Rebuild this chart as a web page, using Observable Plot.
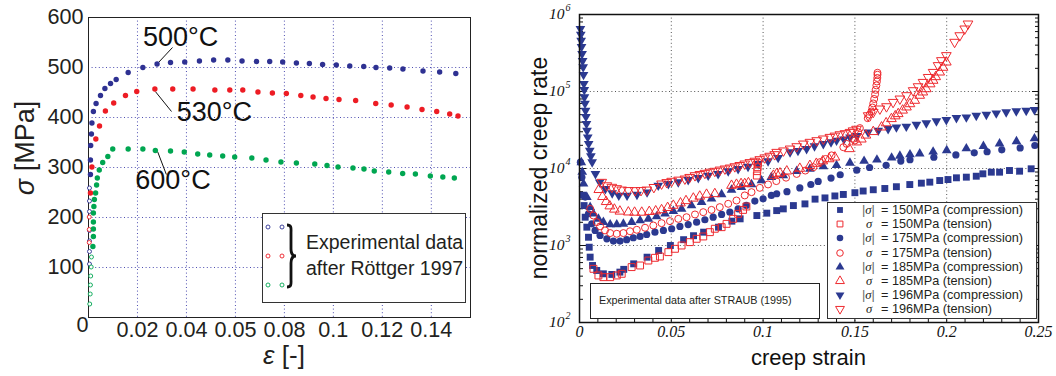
<!DOCTYPE html>
<html>
<head>
<meta charset="utf-8">
<script src="https://cdn.jsdelivr.net/npm/d3@7"></script>
<script src="https://cdn.jsdelivr.net/npm/@observablehq/plot@0.6"></script>
<style>
  html, body { margin:0; padding:0; background:#fff; }
  body { position:relative; width:1056px; height:376px; overflow:hidden; font-family:"Liberation Sans", Arial, sans-serif; }
  #left { position:absolute; left:0; top:0; }
  #right { position:absolute; left:520px; top:0; }
  .box { position:absolute; background:#fff; box-sizing:border-box; }
  .t { position:absolute; white-space:nowrap; color:#231f20; }
</style>
</head>
<body>
<div id="left"></div>
<div id="right"></div>
<script>
// ================= LEFT PANEL DATA (stress-strain, Röttger 1997) =================
const leftXTicks = [0.02, 0.04, 0.06, 0.08, 0.1, 0.12, 0.14];
const leftXTickLabels = ["0.02", "0.04", "0.05", "0.08", "0.1", "0.12", "0.14"];
const leftYTicks = [100, 200, 300, 400, 500, 600];

const strain500 = [0.0008,0.0008,0.0009,0.0012,0.0014,0.002,0.0031,0.0049,0.0067,0.009,0.0113,0.0162,0.0222,0.028,0.0335,0.0393,0.0453,0.0511,0.0569,0.0627,0.0686,0.074,0.0793,0.0849,0.0902,0.0956,0.1012,0.1067,0.1124,0.1174,0.123,0.1284,0.1366,0.1434,0.150];
const stress500 = [286,315,344,367,389,412,428,444,458,468,476,490,500,507,510,511,513,515,515,513,512,512,511,509,508,506,505,503,502,500,499,497,493,491,488];
const strain500Open = [0.0004,0.0004,0.0004,0.0004,0.0004,0.0004,0.0004];
const stress500Open = [259,233,212,174,153,132,107];

const strain530 = [0.0008,0.0014,0.003,0.0045,0.0069,0.0103,0.0151,0.0197,0.0271,0.0344,0.0427,0.0516,0.0577,0.063,0.0692,0.0751,0.0808,0.0867,0.0917,0.097,0.1023,0.1091,0.1173,0.1236,0.1301,0.1362,0.1422,0.1475,0.1509];
const stress530 = [249,301,357,383,413,429,444,452,457,457,457,455,455,455,451,449,448,444,441,438,436,434,428,425,421,416,412,407,403];
const strain530Open = [0.0003,0.0003,0.0003];
const stress530Open = [201,176,150];

const strain600 = [0.0018,0.002,0.002,0.002,0.002,0.0022,0.0024,0.0029,0.0033,0.0036,0.0044,0.0058,0.0079,0.0099,0.0162,0.0222,0.0273,0.0335,0.0391,0.0446,0.0495,0.0548,0.0597,0.0667,0.0725,0.0786,0.0849,0.0924,0.0974,0.1019,0.108,0.1125,0.1167,0.1226,0.1283,0.1335,0.1396,0.1447,0.1494];
const stress600 = [142,162,177,191,209,222,236,249,265,279,295,310,322,337,337,337,334,333,331,327,325,323,321,319,315,311,309,307,304,301,299,297,293,291,288,287,283,281,279];
const strain600Open = [0.0012,0.0011,0.0009,0.0008,0.0007,0.0005];
const stress600Open = [121,101,83,65,47,27];

const tempLabels = ["500°C", "530°C", "600°C"];
const tempLabelX = [0.0376, 0.0514, 0.0345];
const tempLabelY = [560, 410, 274];
const leaderX1 = [0.0343, 0.0339, 0.0318];
const leaderY1 = [540, 412, 286];
const leaderX2 = [0.0282, 0.0273, 0.0282];
const leaderY2 = [508, 452, 332];

// ================= RIGHT PANEL DATA (creep, STRAUB 1995) =================
const rightXTicks = [0, 0.05, 0.1, 0.15, 0.2, 0.25];
const rightXTickLabels = ["0", "0.05", "0.1", "0.15", "0.2", "0.25"];
const rightYDecades = [1e2, 1e3, 1e4, 1e5, 1e6];
const rightYExponents = ["2", "3", "4", "5", "6"];

// 150 MPa compression (filled squares)
const strainC150 = [0.002,0.0025,0.0031,0.004,0.0049,0.0053,0.0058,0.0071,0.0094,0.013,0.0176,0.022,0.0241,0.0295,0.0368,0.0431,0.0495,0.0567,0.0621,0.0676,0.0757,0.083,0.0875,0.0966,0.102,0.1074,0.111,0.1165,0.1228,0.1283,0.1337,0.1391,0.1437,0.150,0.1545,0.160,0.1663,0.1726,0.1799,0.1862,0.1908,0.1962,0.2007,0.2053,0.2107,0.2161,0.2197,0.2243,0.2288,0.2342,0.2397,0.246];
const rateC150 = [4500,3300,2330,1730,1280,950,706,550,474,429,421,451,490,578,705,861,1000,1190,1340,1490,1730,2070,2220,2450,2630,2840,2990,3300,3470,4000,4150,4400,4600,4850,5100,5300,5500,5800,6190,6450,6650,6980,7190,7570,7720,7940,8530,8960,8960,9420,9230,9910];
// 150 MPa tension (open squares)
const strainT150 = [0.0076,0.0103,0.013,0.0167,0.0203,0.023,0.0284,0.033,0.0375,0.0411,0.0438,0.0484,0.052,0.0556,0.0601,0.0638,0.0674,0.071,0.0737,0.0774,0.0801,0.0837,0.0864,0.0891,0.0909,0.0966,0.0968,0.097,0.0972];
const rateT150 = [498,408,388,388,408,429,524,550,638,692,720,820,906,1000,1106,1222,1310,1490,1650,1730,1910,2220,2580,2900,3210,8100,9240,10400,11700];
// 175 MPa compression (filled circles)
const strainC175 = [0.0005,0.0013,0.0031,0.0049,0.0067,0.0085,0.0112,0.0149,0.0185,0.0221,0.0257,0.0293,0.033,0.0366,0.0411,0.0457,0.0502,0.0547,0.0592,0.0638,0.0683,0.0728,0.0774,0.0819,0.0864,0.0909,0.0955,0.1,0.1045,0.1074,0.113,0.12,0.126,0.13,0.137,0.142,0.151,0.158,0.167,0.175,0.18,0.193,0.205,0.215,0.222,0.23,0.24,0.248];
const rateC175 = [12100,7700,4250,2580,1910,1570,1350,1220,1140,1140,1190,1260,1310,1390,1490,1570,1650,1770,1870,2010,2160,2330,2530,2710,2990,3310,3770,4040,4470,4700,5000,5600,6200,6800,7500,8300,9500,10300,11000,12500,13000,14000,15000,16000,16500,17500,18500,19900];
// 175 MPa tension (open circles)
const strainT175 = [0.0058,0.0076,0.0094,0.0112,0.0139,0.0167,0.0203,0.0239,0.0275,0.0312,0.0357,0.0402,0.0447,0.0493,0.0538,0.0583,0.0629,0.0674,0.0719,0.0764,0.081,0.0855,0.09,0.0937,0.0982,0.1027,0.1072,0.1125,0.1183,0.123,0.1274,0.131,0.134,0.1373,0.1437,0.1455,0.1491,0.15,0.1518,0.1527,0.157,0.158,0.159,0.1595,0.16,0.1605,0.161,0.1613,0.1617,0.162,0.1622,0.1623,0.1623];
const rateT175 = [2990,2450,2010,1770,1570,1450,1420,1450,1530,1600,1700,1820,1950,2070,2220,2330,2530,2710,2900,3150,3480,3840,4470,4930,5610,6210,6860,7600,8500,9400,10400,12100,13300,14800,18900,20900,24300,23100,29600,33500,45000,50000,55000,62000,70000,80000,92000,105000,120000,135000,150000,165000,175000];
// 185 MPa compression (filled triangles)
const strainC185 = [0.001,0.0015,0.0022,0.004,0.0058,0.0076,0.0103,0.013,0.0167,0.0203,0.0239,0.0284,0.033,0.0375,0.042,0.0466,0.0511,0.0556,0.061,0.0665,0.0719,0.0774,0.0828,0.0882,0.0937,0.0991,0.1045,0.111,0.1183,0.1255,0.1328,0.14,0.1473,0.155,0.162,0.17,0.1745,0.18,0.1853,0.1926,0.2,0.2107,0.22,0.2288,0.238,0.2478];
const rateC185 = [12000,9000,6330,4250,3150,2580,2220,2010,1870,1870,1910,2010,2110,2220,2380,2580,2790,2990,3310,3660,4040,4600,5280,5730,6210,6980,7730,8110,9230,9900,10600,11000,11800,12500,13000,13800,14600,15200,15600,16500,17200,18200,19500,21000,22500,24500];
// 185 MPa tension (open triangles)
const strainT185 = [0.0105,0.0125,0.0145,0.0165,0.019,0.022,0.0266,0.030,0.0339,0.038,0.0415,0.0447,0.048,0.0511,0.055,0.058,0.062,0.0655,0.0692,0.0737,0.0828,0.0855,0.088,0.09,0.092,0.1056,0.1074,0.1092,0.1129,0.12,0.1255,0.129,0.1325,0.136,0.1391,0.147,0.151,0.1535,0.156,0.16,0.1645,0.167,0.1699,0.172,0.1736,0.176,0.1781,0.18,0.1826,0.1853,0.187,0.1889,0.191,0.1926,0.194,0.1962,0.198,0.1998];
const rateT185 = [5300,4300,3700,3250,2950,2780,2710,2690,2690,2750,2800,2900,3100,3310,3550,3800,4100,4350,4600,4690,6010,6200,6330,6330,6500,8110,8530,8690,9230,10000,10900,11600,12500,13300,14000,18000,22000,24000,27000,30000,34400,39000,44200,48000,51300,57000,62600,69000,76400,88800,98000,108000,125000,139000,155000,178000,205000,240000];
// 196 MPa compression (filled inverted triangles)
const strainC196 = [0.0005,0.0007,0.0009,0.0011,0.0014,0.0017,0.002,0.0022,0.0024,0.0026,0.0027,0.003,0.0033,0.0035,0.0038,0.0041,0.0045,0.005,0.0056,0.0062,0.0069,0.0087,0.011,0.0141,0.0178,0.0214,0.0259,0.0313,0.0368,0.0429,0.0484,0.0538,0.0592,0.0647,0.0701,0.0755,0.081,0.0864,0.0918,0.0973,0.1027,0.1082,0.1147,0.119,0.1237,0.128,0.1328,0.137,0.14,0.144,0.1473,0.151,0.1572,0.1627,0.1681,0.1726,0.178,0.1835,0.1889,0.1944,0.1998,0.2053,0.2107,0.2161,0.2216,0.227,0.2324,0.2379,0.2433,0.2478];
const rateC196 = [652000,550000,459000,380000,308000,250000,207000,165000,126000,105000,84400,70000,56600,47000,38000,31000,25500,21000,17100,14500,12100,8530,6640,5450,4790,4470,4470,4590,4920,6010,6330,6650,7130,7570,8110,8530,9250,9910,10600,11500,12500,13800,16300,17000,18000,19500,20900,22000,23100,24000,25500,26500,29600,31200,32700,34400,35100,37200,38800,41200,42900,45500,46400,48700,50200,52300,53900,55600,56600,57800];
// 196 MPa tension (open inverted triangles)
const strainT196 = [0.0121,0.0149,0.0176,0.0203,0.023,0.0266,0.0303,0.0335,0.0366,0.0405,0.0447,0.0475,0.0502,0.054,0.0574,0.06,0.0629,0.0656,0.0683,0.071,0.0737,0.0765,0.0792,0.082,0.0846,0.0873,0.09,0.0928,0.0955,0.0982,0.1009,0.1036,0.1063,0.1074,0.1111,0.1147,0.1183,0.1219,0.1255,0.1292,0.1328,0.1364,0.1391,0.1418,0.1446,0.1473,0.149,0.1509,0.1572,0.16,0.1636,0.1672,0.1708,0.1745,0.1781,0.1817,0.1844,0.1871,0.1899,0.1926,0.1953,0.1971,0.1998,0.2043,0.2071,0.2098,0.2116];
const rateT196 = [6650,6000,5730,5500,5280,5200,5190,5200,5280,5700,6330,6600,6860,7100,7340,7700,8110,8400,8700,9000,9250,9600,9910,10200,10600,11000,11500,12000,12500,13100,13800,14500,15200,16300,17000,18000,19300,20900,22000,23100,24300,25500,26500,27600,28500,29600,31000,32500,48700,53900,59600,63800,72600,80300,88800,103000,116000,132000,153000,178000,218000,253000,294000,438000,533000,652000,757000];

const legendStress = [150, 150, 175, 175, 185, 185, 196, 196];
const legendMode = ["compression", "tension", "compression", "tension", "compression", "tension", "compression", "tension"];

// ================= STYLE =================
const blueL = "#2e3192", redL = "#ed1c24", greenL = "#00a651";
const blueR = "#2b3990", redR = "#ee2a2f";
const sans = '"Liberation Sans", Arial, sans-serif';
const serif = '"Liberation Serif", "Times New Roman", serif';

const rows = (xs, ys) => xs.map((x, i) => ({x, y: ys[i]}));

// inverted triangle symbol
const sqrt3 = Math.sqrt(3);
const invTri = {
  draw(ctx, size) {
    const a = Math.sqrt(size / (sqrt3 * 3));
    ctx.moveTo(0, 2 * a);
    ctx.lineTo(sqrt3 * a, -a);
    ctx.lineTo(-sqrt3 * a, -a);
    ctx.closePath();
  }
};

// ================= LEFT PLOT =================
const gridBlue = "#3b3ba8";
const ann = tempLabels.map((t, i) => ({t, x: tempLabelX[i], y: tempLabelY[i]}));
const leaders = tempLabels.map((t, i) => ({x1: leaderX1[i], y1: leaderY1[i], x2: leaderX2[i], y2: leaderY2[i]}));

const leftPlot = Plot.plot({
  width: 480, height: 376,
  marginLeft: 88, marginRight: 10, marginTop: 17, marginBottom: 59,
  style: {fontFamily: sans, fontSize: "21.6px", color: "#231f20", background: "transparent", overflow: "visible"},
  x: {domain: [0, 0.156]},
  y: {domain: [0, 600]},
  marks: [
    Plot.gridX(leftXTicks, {stroke: gridBlue, strokeOpacity: 0.9, strokeDasharray: "1,2.6"}),
    Plot.gridY(leftYTicks.slice(0, -1), {stroke: gridBlue, strokeOpacity: 0.9, strokeDasharray: "1,2.6"}),
    Plot.axisX(leftXTicks, {tickSize: 0, tickPadding: 4, label: null, fontSize: 21.6,
      tickFormat: d => leftXTickLabels[leftXTicks.indexOf(d)]}),
    Plot.axisY(leftYTicks, {tickSize: 0, tickPadding: 5, label: null, fontSize: 21.6}),
    Plot.text([{x: 0, y: 0, t: "0"}], {x: "x", y: "y", text: "t", dx: -6, dy: 8, fontSize: 21.6}),
    Plot.frame({stroke: "#222"}),
    Plot.link(leaders, {x1: "x1", y1: "y1", x2: "x2", y2: "y2", stroke: "#111", strokeWidth: 1}),
    Plot.text(ann, {x: "x", y: "y", text: "t", fontSize: 27, fill: "#111"}),
    Plot.dot(rows(strain500Open, stress500Open), {x: "x", y: "y", r: 2, stroke: blueL, fill: "white", strokeWidth: 0.9}),
    Plot.dot(rows(strain530Open, stress530Open), {x: "x", y: "y", r: 2, stroke: redL, fill: "white", strokeWidth: 0.9}),
    Plot.dot(rows(strain600Open, stress600Open), {x: "x", y: "y", r: 2, stroke: greenL, fill: "white", strokeWidth: 0.9}),
    Plot.dot(rows(strain500, stress500), {x: "x", y: "y", r: 2.7, fill: blueL}),
    Plot.dot(rows(strain530, stress530), {x: "x", y: "y", r: 2.7, fill: redL}),
    Plot.dot(rows(strain600, stress600), {x: "x", y: "y", r: 2.7, fill: greenL})
  ]
});
document.getElementById("left").appendChild(leftPlot);
{
  const s = d3.select(leftPlot);
  const yl = s.append("text").attr("transform", "translate(27,148) rotate(-90)")
    .attr("text-anchor", "middle").attr("dominant-baseline", "middle")
    .attr("font-size", 27).attr("fill", "#231f20").attr("font-family", sans);
  yl.append("tspan").attr("font-style", "italic").text("σ");
  yl.append("tspan").text(" [MPa]");
  const xl = s.append("text").attr("x", 284).attr("y", 357)
    .attr("text-anchor", "middle").attr("dominant-baseline", "middle")
    .attr("font-size", 26).attr("fill", "#231f20").attr("font-family", sans);
  xl.append("tspan").attr("font-style", "italic").text("ε");
  xl.append("tspan").text(" [-]");
}

// left legend
{
  const body = d3.select("body");
  body.append("div").attr("class", "box")
    .style("left", "262px").style("top", "213px").style("width", "204px").style("height", "90px")
    .style("border", "1px solid #333");
  const svg = body.append("svg").style("position", "absolute").style("left", "262px").style("top", "213px")
    .attr("width", 50).attr("height", 90);
  const cols = [blueL, redL, greenL];
  cols.forEach((c, i) => {
    [6, 20].forEach(cx => svg.append("circle").attr("cx", cx).attr("cy", 14 + 29 * i).attr("r", 2)
      .attr("fill", "white").attr("stroke", c).attr("stroke-width", 0.9));
  });
  svg.append("path")
    .attr("d", "M25,12 C30,12 29,16 29,20 L29,36 C29,40 30,43 34,43 C30,43 29,46 29,50 L29,66 C29,70 30,74 25,74")
    .attr("fill", "none").attr("stroke", "#111").attr("stroke-width", 2.8);
  body.append("div").attr("class", "t").style("left", "306px").style("top", "231px")
    .style("font-size", "19.5px").style("line-height", "22px").text("Experimental data");
  body.append("div").attr("class", "t").style("left", "306px").style("top", "257px")
    .style("font-size", "19.5px").style("line-height", "22px").text("after Röttger 1997");
}

// ================= RIGHT PLOT =================
const minorY = [];
for (const d of [1e2, 1e3, 1e4, 1e5]) for (let m = 2; m <= 9; m++) minorY.push(m * d);
const minorX = [];
for (let k = 1; k < 25; k++) minorX.push(k / 100);
const grayGrid = "#555";
const dotOpts = (extra) => Object.assign({x: "x", y: "y"}, extra);

const rightPlot = Plot.plot({
  width: 536, height: 376,
  marginLeft: 59, marginRight: 18, marginTop: 14, marginBottom: 54,
  style: {fontFamily: sans, fontSize: "12px", color: "#111", background: "transparent", overflow: "visible"},
  x: {domain: [0, 0.25]},
  y: {type: "log", domain: [100, 1e6]},
  marks: [
    Plot.gridX(rightXTicks.slice(1, -1), {stroke: grayGrid, strokeOpacity: 1, strokeDasharray: "1,2.6"}),
    Plot.gridY(rightYDecades.slice(1, -1), {stroke: grayGrid, strokeOpacity: 1, strokeDasharray: "1,2.6"}),
    Plot.axisY(minorY, {anchor: "left", tickSize: -4, tickFormat: () => "", label: null}),
    Plot.axisY(minorY, {anchor: "right", tickSize: -4, tickFormat: () => "", label: null}),
    Plot.axisY(rightYDecades, {anchor: "left", tickSize: -7, tickFormat: () => "", label: null}),
    Plot.axisY(rightYDecades, {anchor: "right", tickSize: -7, tickFormat: () => "", label: null}),
    Plot.axisX(minorX, {anchor: "bottom", tickSize: -4, tickFormat: () => "", label: null}),
    Plot.text(rightXTicks.map((v, i) => ({v, t: rightXTickLabels[i]})),
      {x: "v", text: "t", frameAnchor: "bottom", dy: 14, fontSize: 16, fontStyle: "italic", fontFamily: serif, fill: "#111"}),
    Plot.text(rightYDecades, {y: d => d, text: () => "10", frameAnchor: "left", dx: -15, textAnchor: "end",
      fontSize: 15.5, fontStyle: "italic", fontFamily: serif, fill: "#111"}),
    Plot.text(rightYDecades.map((v, i) => ({v, t: rightYExponents[i]})),
      {y: "v", text: "t", frameAnchor: "left", dx: -14, dy: -7, textAnchor: "start",
      fontSize: 10, fontStyle: "italic", fontFamily: serif, fill: "#111"}),
    // compression (filled, blue)
    Plot.dot(rows(strainC150, rateC150), dotOpts({symbol: "square", r: 3.9, fill: blueR})),
    Plot.dot(rows(strainC175, rateC175), dotOpts({symbol: "circle", r: 3.6, fill: blueR})),
    Plot.dot(rows(strainC185, rateC185), dotOpts({symbol: "triangle", r: 3.6, fill: blueR})),
    Plot.dot(rows(strainC196, rateC196), dotOpts({symbol: invTri, r: 3.6, fill: blueR})),
    // tension (open, red)
    Plot.dot(rows(strainT150, rateT150), dotOpts({symbol: "square", r: 3.9, fill: "none", stroke: redR, strokeWidth: 1})),
    Plot.dot(rows(strainT175, rateT175), dotOpts({symbol: "circle", r: 3.5, fill: "none", stroke: redR, strokeWidth: 1})),
    Plot.dot(rows(strainT185, rateT185), dotOpts({symbol: "triangle", r: 3.6, fill: "none", stroke: redR, strokeWidth: 1})),
    Plot.dot(rows(strainT196, rateT196), dotOpts({symbol: invTri, r: 3.6, fill: "none", stroke: redR, strokeWidth: 1})),
    Plot.frame({stroke: "#111", strokeWidth: 1.5})
  ]
});
document.getElementById("right").appendChild(rightPlot);
{
  const s = d3.select(rightPlot);
  s.append("text").attr("transform", "translate(21,168) rotate(-90)")
    .attr("text-anchor", "middle").attr("dominant-baseline", "middle")
    .attr("font-size", 23).attr("fill", "#111").attr("font-family", sans)
    .text("normalized creep rate");
  s.append("text").attr("x", 288.5).attr("y", 359)
    .attr("text-anchor", "middle").attr("dominant-baseline", "middle")
    .attr("font-size", 22).attr("fill", "#111").attr("font-family", sans)
    .text("creep strain");
}

// right legend + STRAUB box
{
  const body = d3.select("body");
  body.append("div").attr("class", "box")
    .style("left", "590px").style("top", "283px").style("width", "230px").style("height", "36px")
    .style("border", "1px solid #222");
  body.append("div").attr("class", "t").style("left", "599px").style("top", "293px")
    .style("font-size", "10.8px").style("line-height", "14px")
    .text("Experimental data after STRAUB (1995)");

  body.append("div").attr("class", "box")
    .style("left", "827px").style("top", "202px").style("width", "210px").style("height", "117px")
    .style("border", "1.5px solid #333");
  const syms = [d3.symbolSquare, d3.symbolSquare, d3.symbolCircle, d3.symbolCircle,
                d3.symbolTriangle, d3.symbolTriangle, invTri, invTri];
  legendStress.forEach((st, i) => {
    const cy = 210 + 14.2 * i;
    const tension = legendMode[i] === "tension";
    const svg = body.append("svg").style("position", "absolute")
      .style("left", "834px").style("top", (cy - 6) + "px").attr("width", 12).attr("height", 12);
    svg.append("path").attr("transform", "translate(6,6)")
      .attr("d", d3.symbol(syms[i], 34)())
      .attr("fill", tension ? "white" : blueR)
      .attr("stroke", tension ? redR : "none").attr("stroke-width", 1);
    const lab = body.append("div").attr("class", "t")
      .style("left", (tension ? 866 : 862) + "px").style("top", (cy - 7) + "px")
      .style("font-size", "12.7px").style("line-height", "14px");
    if (tension) {
      lab.append("i").style("font-family", serif).text("σ");
    } else {
      lab.append("span").style("color", "#666").text("|");
      lab.append("i").style("font-family", serif).text("σ");
      lab.append("span").style("color", "#666").text("|");
    }
    body.append("div").attr("class", "t").style("left", "881px").style("top", (cy - 7) + "px")
      .style("font-size", "12.7px").style("line-height", "14px")
      .text(`= ${st}MPa (${legendMode[i]})`);
  });
}
</script>
</body>
</html>
